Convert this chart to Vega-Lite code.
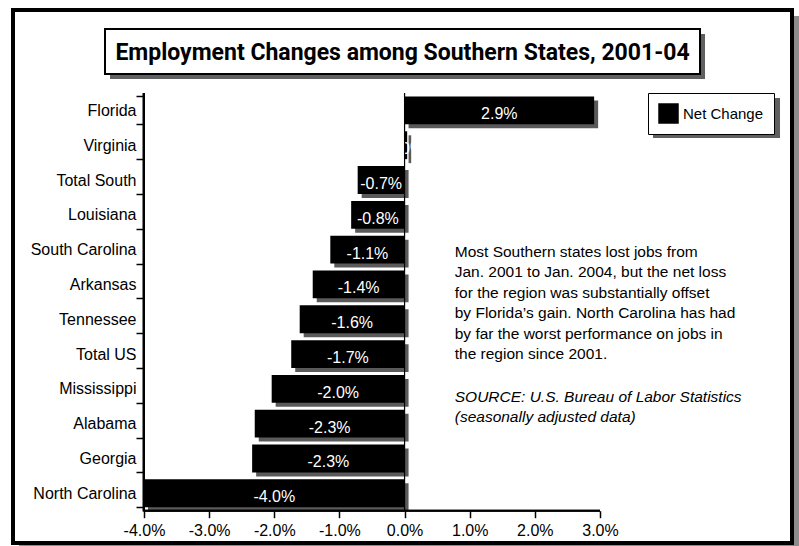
{
  "$schema": "https://vega.github.io/schema/vega-lite/v6.json",
  "width": 456,
  "height": 417.7,
  "autosize": {"type": "none"},
  "padding": {"left": 144, "top": 93, "right": 199, "bottom": 35.3},
  "background": "white",
  "config": {
    "view": {"stroke": "transparent", "fill": "transparent"},
    "font": "Liberation Sans",
    "axis": {
      "zindex": 0,
      "grid": false,
      "domain": false,
      "tickColor": "black",
      "tickWidth": 1.5,
      "labelFont": "Liberation Sans",
      "labelFontSize": 16,
      "labelColor": "black"
    },
    "axisX": {"tickSize": 7, "labelPadding": 5, "labelFlush": false, "labelOverlap": false},
    "axisY": {"tickSize": 8, "tickBand": "extent", "labelPadding": 0, "labelLimit": 0}
  },
  "layer": [
    {
      "data": {"values": [{}]},
      "mark": {"type": "rect", "fill": "#8c8c8c"},
      "encoding": {"x": {"value": 646}, "x2": {"value": 660}, "y": {"value": -77}, "y2": {"value": 460}}
    },
    {
      "data": {"values": [{}]},
      "mark": {"type": "rect", "fill": "#8c8c8c"},
      "encoding": {"x": {"value": -125}, "x2": {"value": 660}, "y": {"value": 448}, "y2": {"value": 460}}
    },
    {
      "data": {"values": [{}]},
      "mark": {"type": "rect", "fill": "transparent", "stroke": "black", "strokeWidth": 4},
      "encoding": {"x": {"value": -131}, "x2": {"value": 648}, "y": {"value": -83}, "y2": {"value": 450}}
    },
    {
      "data": {"values": [{}]},
      "mark": {"type": "rect", "fill": "#606060"},
      "encoding": {"x": {"value": 555}, "x2": {"value": 561}, "y": {"value": -59}, "y2": {"value": -14}}
    },
    {
      "data": {"values": [{}]},
      "mark": {"type": "rect", "fill": "#606060"},
      "encoding": {"x": {"value": -34}, "x2": {"value": 561}, "y": {"value": -20}, "y2": {"value": -14}}
    },
    {
      "data": {"values": [{}]},
      "mark": {"type": "rect", "fill": "transparent", "stroke": "black", "strokeWidth": 2},
      "encoding": {"x": {"value": -39}, "x2": {"value": 556}, "y": {"value": -64}, "y2": {"value": -19}}
    },
    {
      "data": {"values": [{}]},
      "mark": {"type": "text", "text": "Employment Changes among Southern States, 2001-04", "font": "Roboto", "fontWeight": "bold", "fontSize": 23, "align": "center", "baseline": "alphabetic", "color": "black"},
      "encoding": {"x": {"value": 258.5}, "y": {"value": -33}}
    },
    {
      "data": {"values": [{}]},
      "mark": {"type": "rect", "fill": "#606060"},
      "encoding": {"x": {"value": 509}, "x2": {"value": 636}, "y": {"value": 5}, "y2": {"value": 45}}
    },
    {
      "data": {"values": [
        {"state": "Florida", "value": 0.0291},
        {"state": "Virginia", "value": 0.0004},
        {"state": "Total South", "value": -0.0072},
        {"state": "Louisiana", "value": -0.0082},
        {"state": "South Carolina", "value": -0.0114},
        {"state": "Arkansas", "value": -0.0141},
        {"state": "Tennessee", "value": -0.0161},
        {"state": "Total US", "value": -0.0174},
        {"state": "Mississippi", "value": -0.0204},
        {"state": "Alabama", "value": -0.0230},
        {"state": "Georgia", "value": -0.0234},
        {"state": "North Carolina", "value": -0.0400}
      ]},
      "transform": [
        {"calculate": "datum.value / 2", "as": "mid"},
        {"calculate": "replace(format(datum.value, '.1%'), '\u2212', '-')", "as": "label"}
      ],
      "encoding": {
        "y": {
          "field": "state",
          "type": "nominal",
          "scale": {
            "domain": ["Florida", "Virginia", "Total South", "Louisiana", "South Carolina", "Arkansas", "Tennessee", "Total US", "Mississippi", "Alabama", "Georgia", "North Carolina"],
            "paddingInner": 0.2,
            "paddingOuter": 0.1
          },
          "axis": {"title": null}
        }
      },
      "layer": [
        {
          "mark": {"type": "bar", "color": "#5a5a5a", "xOffset": 4, "yOffset": 4, "y2Offset": 4},
          "encoding": {
            "x": {"field": "value", "type": "quantitative", "scale": {"domain": [-0.04, 0.03], "nice": false, "zero": false}, "axis": {"title": null}}
          }
        },
        {
          "mark": {"type": "bar"},
          "encoding": {
            "x": {
              "field": "value",
              "type": "quantitative",
              "scale": {"domain": [-0.04, 0.03], "nice": false, "zero": false},
              "axis": {
                "title": null,
                "values": [-0.04, -0.03, -0.02, -0.01, 0, 0.01, 0.02, 0.03],
                "labelExpr": "replace(format(datum.value, '.1%'), '\u2212', '-')"
              }
            },
            "color": {
              "datum": "Net Change",
              "type": "nominal",
              "scale": {"range": ["black"]},
              "legend": {
                "title": null,
                "orient": "none",
                "legendX": 504,
                "legendY": 0,
                "padding": 10,
                "strokeColor": "black",
                "fillColor": "white",
                "symbolType": "square",
                "symbolSize": 420,
                "symbolStrokeWidth": 0,
                "labelFont": "Liberation Sans",
                "labelFontSize": 15,
                "labelColor": "black",
                "labelOffset": 4,
                "labelLimit": 0
              }
            }
          }
        },
        {
          "mark": {"type": "text", "color": "white", "font": "Liberation Sans", "fontSize": 16, "align": "center", "baseline": "alphabetic", "dy": 9},
          "encoding": {
            "x": {"field": "mid", "type": "quantitative", "scale": {"domain": [-0.04, 0.03], "nice": false, "zero": false}, "axis": {"title": null}},
            "text": {"field": "label"}
          }
        }
      ]
    },
    {
      "data": {"values": [{}]},
      "mark": {"type": "rule", "color": "black", "strokeWidth": 1.2},
      "encoding": {"x": {"datum": 0, "type": "quantitative", "axis": {"title": null}}}
    },
    {
      "data": {"values": [{}]},
      "mark": {"type": "rect", "color": "black", "xOffset": -1.5, "x2Offset": 1},
      "encoding": {
        "x": {"datum": -0.04, "type": "quantitative", "axis": {"title": null}},
        "x2": {"datum": -0.04},
        "y": {"value": 0},
        "y2": {"value": 418.5}
      }
    },
    {
      "data": {"values": [{}]},
      "mark": {"type": "rect", "color": "black"},
      "encoding": {
        "x": {"datum": -0.04, "type": "quantitative", "axis": {"title": null}},
        "x2": {"datum": 0.03},
        "y": {"value": 416.7},
        "y2": {"value": 418.7}
      }
    },
    {
      "data": {"values": [{}]},
      "mark": {"type": "rule", "color": "black", "strokeWidth": 2},
      "encoding": {"x": {"value": 0}, "y": {"value": 0}, "y2": {"value": 418.5}}
    },
    {
      "data": {"values": [{}]},
      "mark": {"type": "rule", "color": "black", "strokeWidth": 2},
      "encoding": {"x": {"value": 0}, "x2": {"value": 456}, "y": {"value": 417.7}}
    },
    {
      "data": {"values": [{}]},
      "mark": {"type": "text", "align": "left", "baseline": "top", "font": "Liberation Sans", "fontSize": 15.5, "lineHeight": 20.5, "color": "black", "dy": -5},
      "encoding": {
        "x": {"datum": 0.0077, "type": "quantitative", "axis": {"title": null}},
        "y": {"datum": "South Carolina", "type": "nominal", "axis": {"title": null}},
        "text": {"value": ["Most Southern states lost jobs from", "Jan. 2001 to Jan. 2004, but the net loss", "for the region was substantially offset", "by Florida’s gain. North Carolina has had", "by far the worst performance on jobs in", "the region since 2001."]}
      }
    },
    {
      "data": {"values": [{}]},
      "mark": {"type": "text", "align": "left", "baseline": "top", "font": "Liberation Sans", "fontStyle": "italic", "fontSize": 15.5, "lineHeight": 20.5, "color": "black", "dy": 1},
      "encoding": {
        "x": {"datum": 0.0077, "type": "quantitative", "axis": {"title": null}},
        "y": {"datum": "Mississippi", "type": "nominal", "axis": {"title": null}},
        "text": {"value": ["SOURCE: U.S. Bureau of Labor Statistics", "(seasonally adjusted data)"]}
      }
    }
  ]
}
